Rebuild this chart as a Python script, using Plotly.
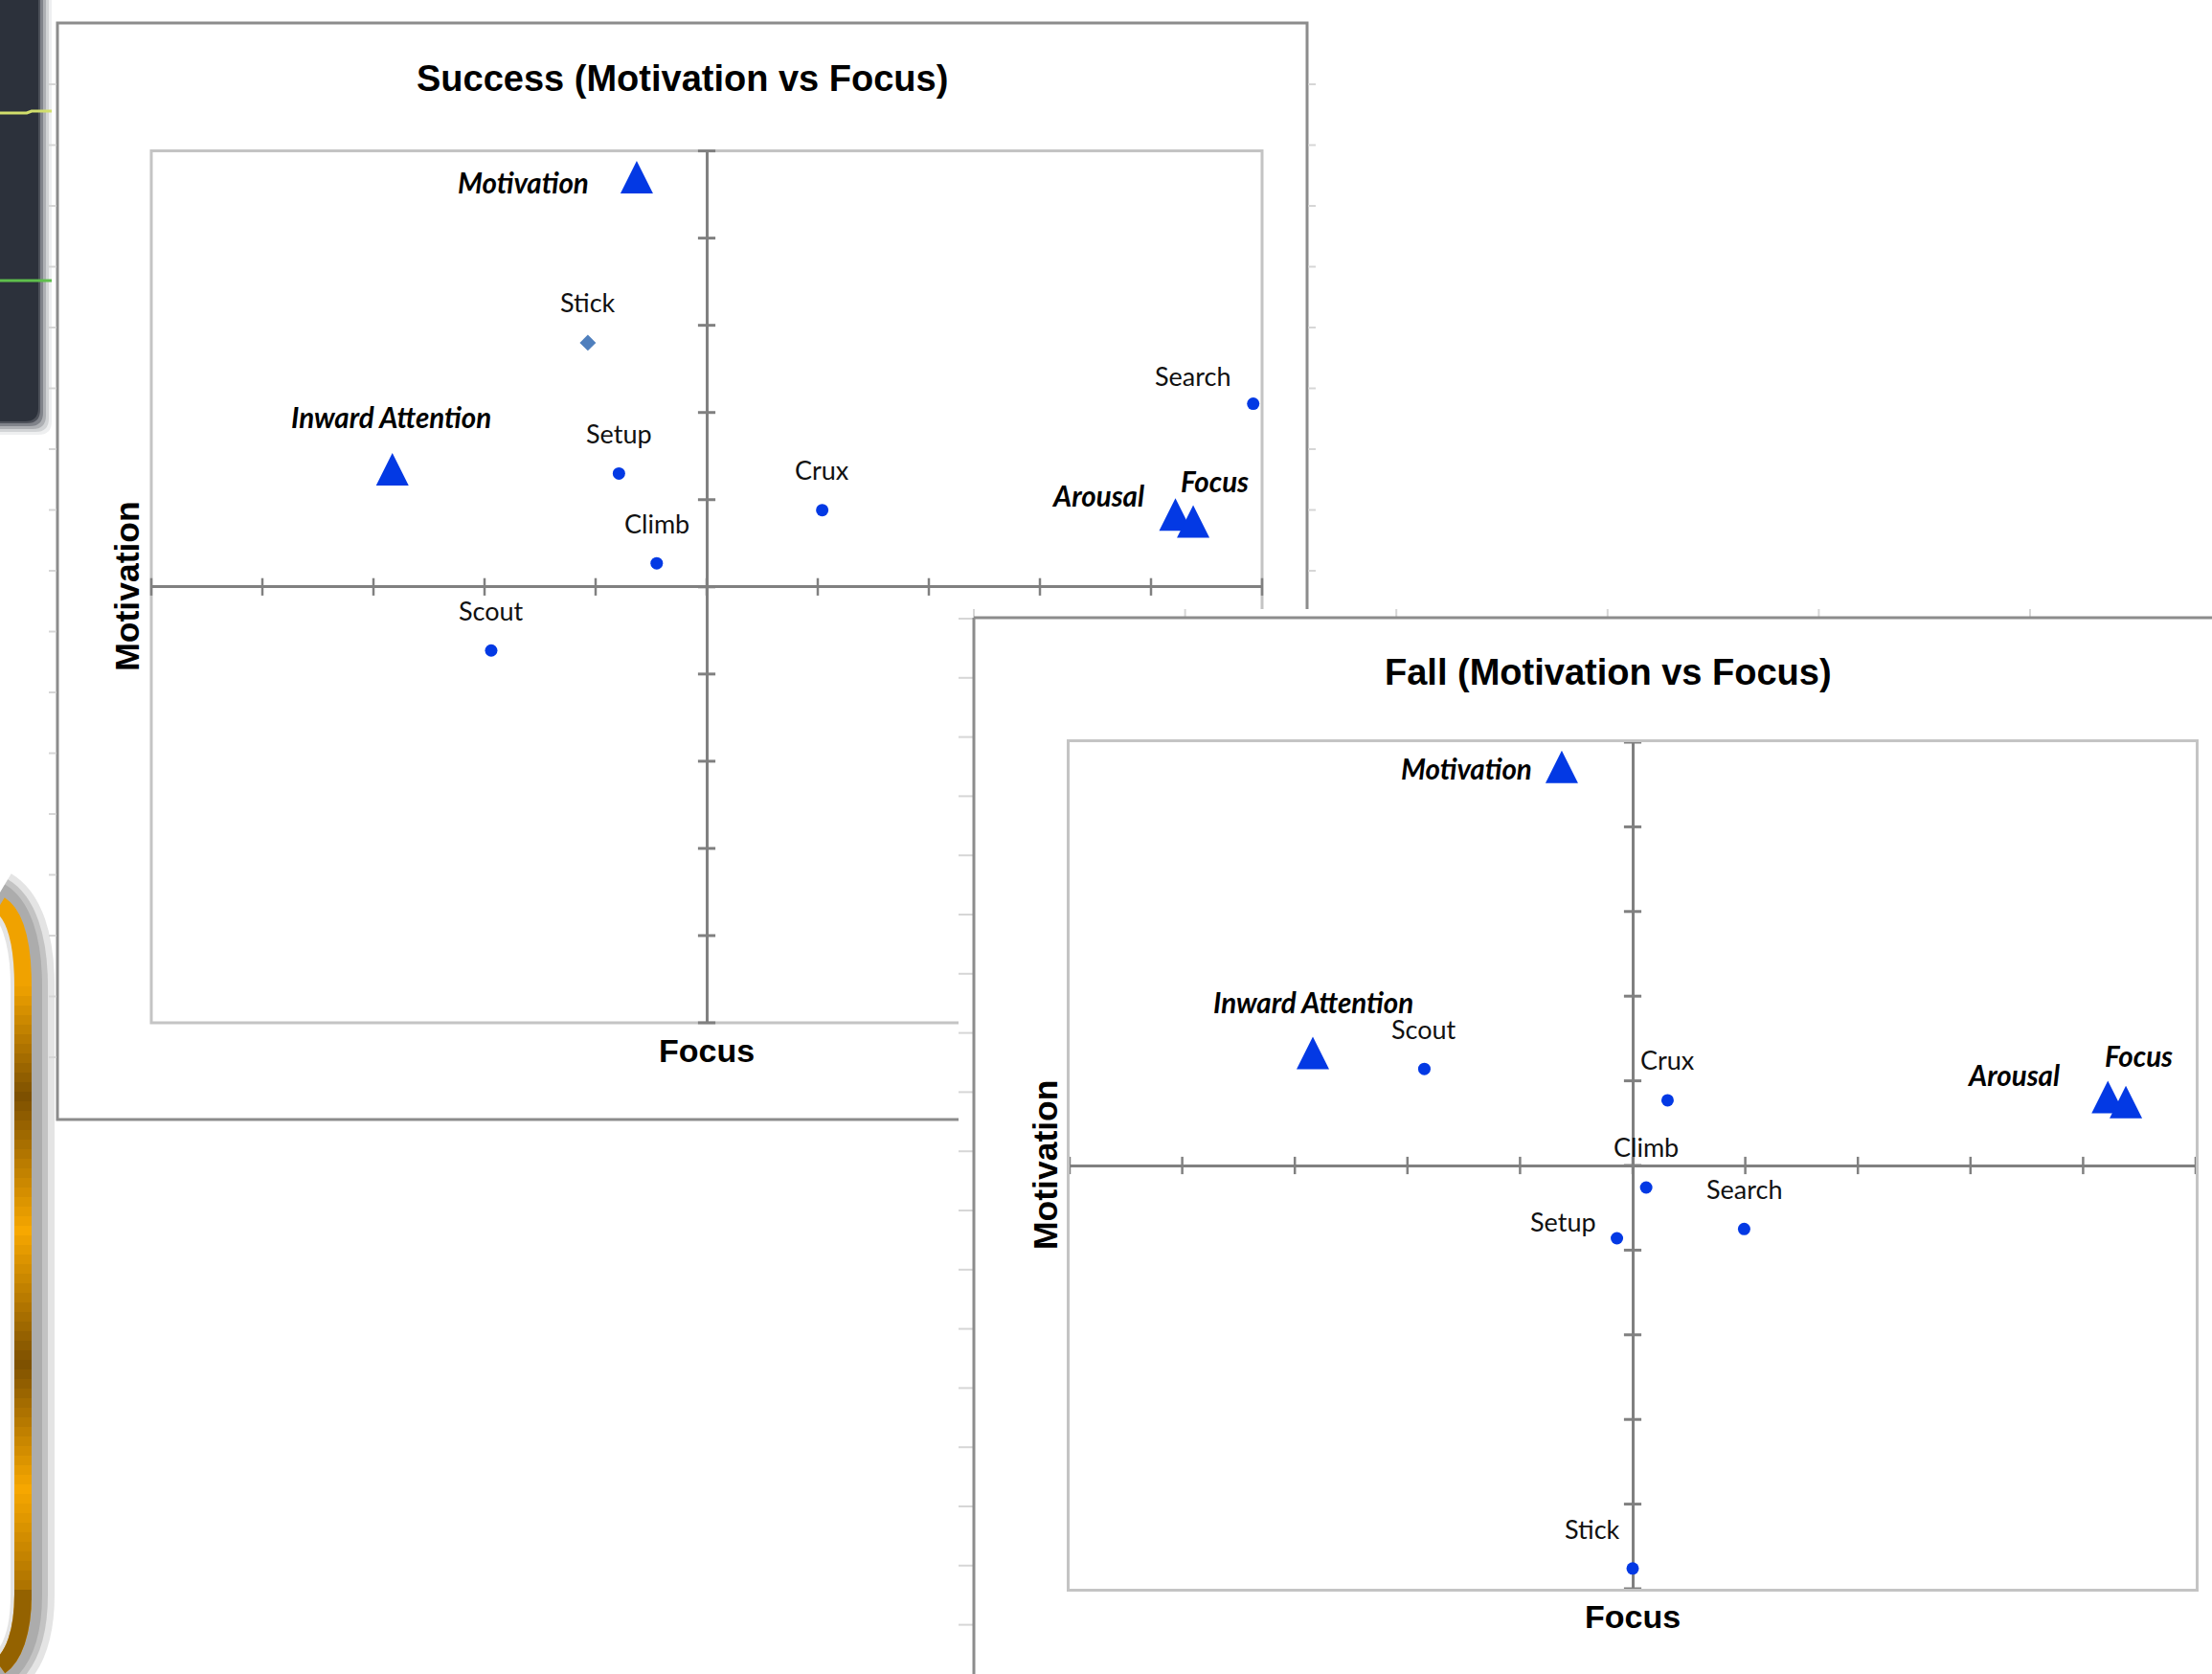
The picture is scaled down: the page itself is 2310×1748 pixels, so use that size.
import plotly.graph_objects as go

W, H = 2310, 1748

# ---------------- data ----------------
axis_steps = [-5, -4, -3, -2, -1, 0, 1, 2, 3, 4, 5]

construct_names = ["Motivation", "Inward Attention", "Arousal", "Focus"]

success_construct_x = [-0.63, -2.83, 4.22, 4.38]
success_construct_y = [4.70, 1.35, 0.83, 0.75]
success_phase_names = ["Stick", "Search", "Setup", "Crux", "Climb", "Scout"]
success_phase_x = [-1.07, 4.92, -0.79, 1.04, -0.45, -1.94]
success_phase_y = [2.80, 2.10, 1.30, 0.88, 0.27, -0.73]

fall_construct_x = [-0.63, -2.84, 4.22, 4.38]
fall_construct_y = [4.71, 1.33, 0.81, 0.75]
fall_phase_names = ["Scout", "Crux", "Climb", "Search", "Setup", "Stick"]
fall_phase_x = [-1.85, 0.31, 0.12, 0.99, -0.14, 0.00]
fall_phase_y = [1.14, 0.77, -0.26, -0.75, -0.86, -4.76]

# ---------------- styling ----------------
BLUE = "#0339e4"
STEEL = "#4f7fbd"
AXIS_GREY = "#808080"
FRAME_GREY = "#8c8c8c"
BORDER_GREY = "#c4c4c4"
FAINT = "#d6d6d6"
TITLE_FONT = "Liberation Sans, Arial, sans-serif"
LABEL_FONT = "Lato, Open Sans, sans-serif"


def fx(px):
    return px / W


def fy(py):
    return 1 - py / H


# plot areas in pixels: left, top, right, bottom
SUCCESS_BOX = (158, 157.6, 1318, 1068)
FALL_BOX = (1117, 775, 2293, 1659)

# label placement: name -> (xshift px, yshift px, xanchor)
DEFAULT_PHASE = (0, 42, "center")
success_label_pos = {
    "Search": (-63, 29, "center"),
    "Motivation": (-48, -6, "right"),
    "Inward Attention": (-1, 54, "center"),
    "Arousal": (-31, 20, "right"),
    "Focus": (22, 42, "center"),
}
fall_label_pos = {
    "Setup": (-20, 18, "right"),
    "Stick": (-42, 41, "center"),
    "Motivation": (-29, -2, "right"),
    "Inward Attention": (0, 53, "center"),
    "Arousal": (-48, 23, "right"),
    "Focus": (13, 48, "center"),
}

fig = go.Figure()
annotations = []
shapes = []


def add_chart(xa, ya, phase_names, phase_x, phase_y, cons_x, cons_y,
              label_pos, phase_symbols, phase_colors):
    # tick marks sitting on the crossing axes
    fig.add_trace(go.Scatter(
        x=axis_steps, y=[0] * len(axis_steps), xaxis=xa, yaxis=ya,
        mode="markers", hoverinfo="skip", cliponaxis=False,
        marker=dict(symbol="line-ns", size=13, color=AXIS_GREY,
                    line=dict(width=2.5, color=AXIS_GREY))))
    fig.add_trace(go.Scatter(
        x=[0] * len(axis_steps), y=axis_steps, xaxis=xa, yaxis=ya,
        mode="markers", hoverinfo="skip", cliponaxis=False,
        marker=dict(symbol="line-ew", size=13, color=AXIS_GREY,
                    line=dict(width=3, color=AXIS_GREY))))
    # climbing phases
    fig.add_trace(go.Scatter(
        x=phase_x, y=phase_y, xaxis=xa, yaxis=ya, mode="markers",
        cliponaxis=False, text=phase_names, hoverinfo="text",
        marker=dict(symbol=phase_symbols, size=13, color=phase_colors)))
    # psychological constructs
    fig.add_trace(go.Scatter(
        x=cons_x, y=cons_y, xaxis=xa, yaxis=ya, mode="markers",
        cliponaxis=False, text=construct_names, hoverinfo="text",
        marker=dict(symbol="arrow-down", angle=180, standoff=17,
                    size=34, color=BLUE)))

    for name, xv, yv in zip(phase_names, phase_x, phase_y):
        dx, dy, anc = label_pos.get(name, DEFAULT_PHASE)
        annotations.append(dict(
            x=xv, y=yv, xref=xa, yref=ya, text=name, showarrow=False,
            xanchor=anc, yanchor="middle", xshift=dx, yshift=dy,
            font=dict(family=LABEL_FONT, size=27, color="#111111")))
    for name, xv, yv in zip(construct_names, cons_x, cons_y):
        dx, dy, anc = label_pos.get(name, DEFAULT_PHASE)
        annotations.append(dict(
            x=xv, y=yv, xref=xa, yref=ya, text=name, showarrow=False,
            xanchor=anc, yanchor="middle", xshift=dx, yshift=dy,
            font=dict(family=LABEL_FONT, size=29.5, color="#000000",
                      weight="bold", style="italic")))


success_symbols = ["diamond" if n == "Stick" else "circle" for n in success_phase_names]
success_colors = [STEEL if n == "Stick" else BLUE for n in success_phase_names]
add_chart("x", "y", success_phase_names, success_phase_x, success_phase_y,
          success_construct_x, success_construct_y, success_label_pos,
          success_symbols, success_colors)
add_chart("x2", "y2", fall_phase_names, fall_phase_x, fall_phase_y,
          fall_construct_x, fall_construct_y, fall_label_pos,
          "circle", BLUE)


def axis_common(domain, show_border):
    return dict(domain=domain, range=[-5, 5], showgrid=False,
                zeroline=True, zerolinecolor=AXIS_GREY, zerolinewidth=3,
                showticklabels=False, ticks="", fixedrange=True,
                showline=show_border, mirror=show_border,
                linecolor=BORDER_GREY, linewidth=3)


sx = [fx(SUCCESS_BOX[0]), fx(SUCCESS_BOX[2])]
sy = [fy(SUCCESS_BOX[3]), fy(SUCCESS_BOX[1])]
fxd = [fx(FALL_BOX[0]), fx(FALL_BOX[2])]
fyd = [fy(FALL_BOX[3]), fy(FALL_BOX[1])]


def line(x0, y0, x1, y1, color, width):
    shapes.append(dict(type="line", xref="paper", yref="paper", layer="below",
                       x0=fx(x0), y0=fy(y0), x1=fx(x1), y1=fy(y1),
                       line=dict(color=color, width=width)))


def path(pts_cmd, color, width, fill=None):
    shapes.append(dict(type="path", xref="paper", yref="paper", layer="below",
                       path=pts_cmd, fillcolor=fill,
                       line=dict(color=color, width=width)))


def P(x, y):
    return f"{fx(x):.5f},{fy(y):.5f}"


# ---- dark side panel with its soft shadow (top left) ----
for grow, alpha in [(14, 0.08), (11, 0.14), (8, 0.22), (5, 0.35), (2, 0.6), (0, 1.0)]:
    r = 14
    x1, y1 = 40 + grow, 440 + grow
    shapes.append(dict(
        type="path", xref="paper", yref="paper", layer="below",
        path=f"M {P(0, 0)} L {P(x1, 0)} L {P(x1, y1 - r)} Q {P(x1, y1)} {P(x1 - r, y1)} "
             f"L {P(0, y1)} Z",
        fillcolor=f"rgba(44,49,59,{alpha})", line=dict(width=0)))
path(f"M {P(0, 118)} L {P(28, 118)} L {P(33, 116)} L {P(54, 116)}", "#d2df6c", 3)
path(f"M {P(0, 293)} L {P(54, 293)}", "#5fbf4c", 3)

# ---- gold rounded bar (bottom left) ----
gold_path = (f"M {P(0, 945)} C {P(16, 955)} {P(24, 985)} {P(24, 1030)} "
             f"L {P(24, 1665)} C {P(24, 1705)} {P(14, 1730)} {P(0, 1740)}")
shadow_path = (f"M {P(0, 932)} C {P(22, 945)} {P(34, 980)} {P(34, 1030)} "
               f"L {P(34, 1665)} C {P(34, 1710)} {P(22, 1738)} {P(0, 1752)}")
path(shadow_path, "rgba(120,120,120,0.20)", 46)
path(shadow_path, "rgba(120,120,120,0.30)", 32)
path(shadow_path, "rgba(120,120,120,0.30)", 20)
path(gold_path, "#f0a200", 18)

gold_stops = [(1022, (247, 168, 0)), (1145, (125, 80, 0)), (1285, (247, 168, 0)),
              (1423, (125, 80, 0)), (1554, (247, 168, 0)), (1726, (125, 80, 0))]


def gold_at(y):
    if y <= gold_stops[0][0]:
        return gold_stops[0][1]
    for (ya_, ca), (yb_, cb) in zip(gold_stops[:-1], gold_stops[1:]):
        if ya_ <= y <= yb_:
            t = (y - ya_) / (yb_ - ya_)
            return tuple(int(ca[i] + (cb[i] - ca[i]) * t) for i in range(3))
    return gold_stops[-1][1]


yy = 1030
while yy < 1668:
    c = gold_at(yy + 5)
    line(24, yy, 24, yy + 11, f"rgb{c}", 18)
    yy += 10
path(f"M {P(24, 1660)} L {P(24, 1665)} C {P(24, 1705)} {P(14, 1730)} {P(0, 1740)}",
     "#946200", 18)

# ---- success card ----
path(f"M {P(60, 24)} L {P(1365, 24)} L {P(1365, 1169)} L {P(60, 1169)} Z", FRAME_GREY, 3)
for k in range(17):
    ty = 88 + 63.5 * k
    line(51, ty, 59, ty, FAINT, 2)
    if ty < 636:
        line(1366, ty, 1374, ty, FAINT, 2)
# plot border of the success chart
path(f"M {P(SUCCESS_BOX[0], SUCCESS_BOX[1])} L {P(SUCCESS_BOX[2], SUCCESS_BOX[1])} "
     f"L {P(SUCCESS_BOX[2], SUCCESS_BOX[3])} L {P(SUCCESS_BOX[0], SUCCESS_BOX[3])} Z",
     BORDER_GREY, 3)

# ---- fall card laid over the success card ----
shapes.append(dict(type="rect", xref="paper", yref="paper", layer="below",
                   x0=fx(1001), y0=fy(1760), x1=fx(2320), y1=fy(636),
                   fillcolor="white", line=dict(width=0)))
for k in range(19):
    ty = 646 + 61.8 * k
    line(1001, ty, 1016, ty, FAINT, 2)
for k in range(6):
    tx = 1017 + 220.6 * k
    line(tx, 636, tx, 645, FAINT, 2)
line(1017, 645, 2310, 645, FRAME_GREY, 3)
line(1017, 645, 1017, 1748, FRAME_GREY, 3)

# ---- titles ----
title_font = dict(family=TITLE_FONT, size=38, color="#000000", weight="bold")
axis_font = dict(family=TITLE_FONT, size=34, color="#000000", weight="bold")
yaxis_font = dict(family=TITLE_FONT, size=35.5, color="#000000", weight="bold")
annotations += [
    dict(x=fx(712), y=fy(82), xref="paper", yref="paper", showarrow=False,
         text="Success (Motivation vs Focus)", font=title_font,
         xanchor="center", yanchor="middle"),
    dict(x=fx(1679), y=fy(702), xref="paper", yref="paper", showarrow=False,
         text="Fall (Motivation vs Focus)", font=title_font,
         xanchor="center", yanchor="middle"),
    dict(x=sum(sx) / 2, y=fy(1097), xref="paper", yref="paper", showarrow=False,
         text="Focus", font=axis_font, xanchor="center", yanchor="middle"),
    dict(x=fx(133), y=sum(sy) / 2, xref="paper", yref="paper", showarrow=False,
         text="Motivation", font=yaxis_font, textangle=-90,
         xanchor="center", yanchor="middle"),
    dict(x=sum(fxd) / 2, y=fy(1688), xref="paper", yref="paper", showarrow=False,
         text="Focus", font=axis_font, xanchor="center", yanchor="middle"),
    dict(x=fx(1092), y=sum(fyd) / 2, xref="paper", yref="paper", showarrow=False,
         text="Motivation", font=yaxis_font, textangle=-90,
         xanchor="center", yanchor="middle"),
]

fig.update_layout(
    width=W, height=H,
    margin=dict(l=0, r=0, t=0, b=0),
    paper_bgcolor="white",
    plot_bgcolor="rgba(0,0,0,0)",
    showlegend=False,
    xaxis=dict(axis_common(sx, False), anchor="y"),
    yaxis=dict(axis_common(sy, False), anchor="x"),
    xaxis2=dict(axis_common(fxd, True), anchor="y2"),
    yaxis2=dict(axis_common(fyd, True), anchor="x2"),
    shapes=shapes,
    annotations=annotations,
)

fig.write_html("out.html")
